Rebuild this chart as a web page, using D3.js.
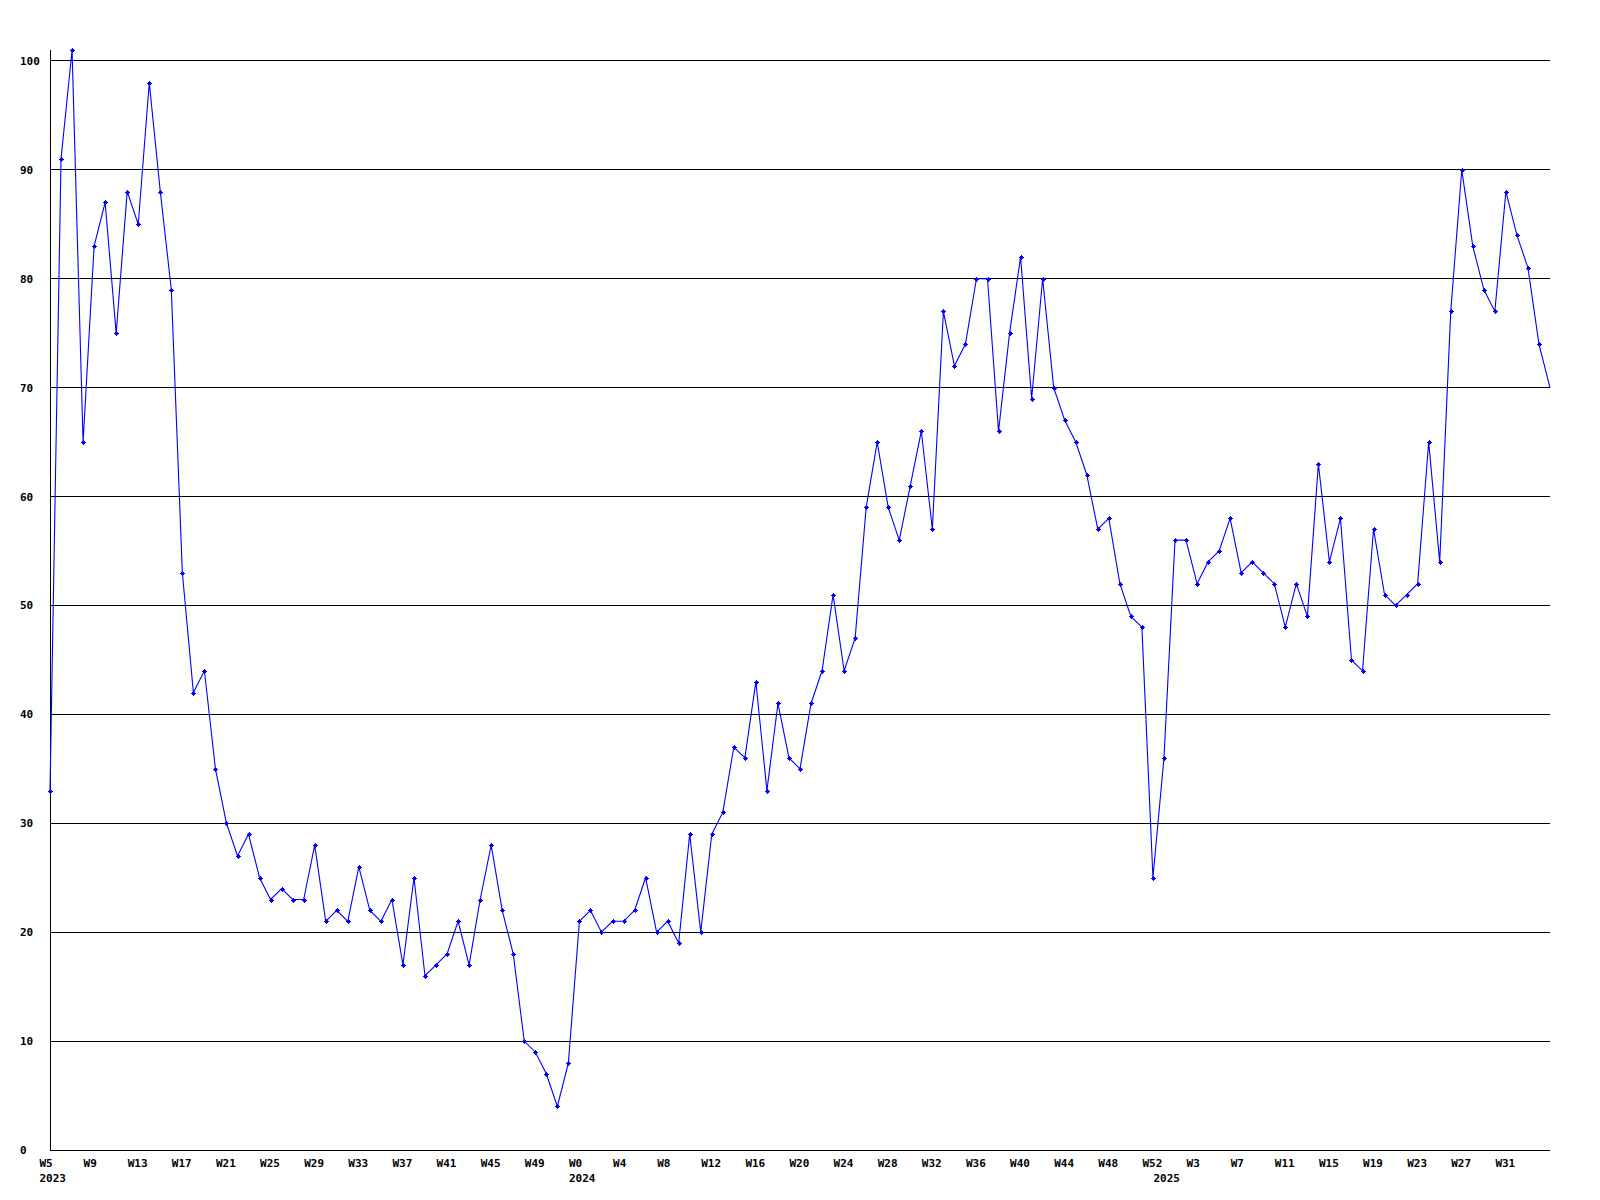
<!DOCTYPE html>
<html>
<head>
<meta charset="utf-8">
<script src="https://cdn.jsdelivr.net/npm/d3@7"></script>
<style>
  html, body { margin: 0; padding: 0; background: #fff; }
  svg { display: block; }
  text { font-family: "DejaVu Sans Mono", "Liberation Mono", monospace; font-weight: bold; font-size: 11px; fill: #000; }
</style>
</head>
<body>
<svg id="chart" width="1600" height="1200"></svg>
<script>
// ---- data ----
const years = ["2023", "2024", "2025"];
const weeks2023 = [5,6,7,8,9,10,11,12,13,14,15,16,17,18,19,20,21,22,23,24,25,26,27,28,29,30,31,32,33,34,35,36,37,38,39,40,41,42,43,44,45,46,47,48,49,50,51,52];
const weeks2024 = [0,1,2,3,4,5,6,7,8,9,10,11,12,13,14,15,16,17,18,19,20,21,22,23,24,25,26,27,28,29,30,31,32,33,34,35,36,37,38,39,40,41,42,43,44,45,46,47,48,49,50,51,52];
const weeks2025 = [0,1,2,3,4,5,6,7,8,9,10,11,12,13,14,15,16,17,18,19,20,21,22,23,24,25,26,27,28,29,30,31,32,33,34,35];

const values2023 = [33,91,101,65,83,87,75,88,85,98,
                    88,79,53,42,44,35,30,27,29,25,
                    23,24,23,23,28,21,22,21,26,22,
                    21,23,17,25,16,17,18,21,17,23,
                    28,22,18,10,9,7,4,8];
const values2024 = [21,22,20,21,21,22,25,20,21,19,
                    29,20,29,31,37,36,43,33,41,36,
                    35,41,44,51,44,47,59,65,59,56,
                    61,66,57,77,72,74,80,80,66,75,
                    82,69,80,70,67,65,62,57,58,52,
                    49,48,25];
const values2025 = [36,56,56,52,54,55,58,53,54,53,
                    52,48,52,49,63,54,58,45,44,57,
                    51,50,51,52,65,54,77,90,83,79,
                    77,88,84,81,74,70];

const xTicks = ["2023-W5","2023-W9","2023-W13","2023-W17","2023-W21","2023-W25","2023-W29","2023-W33","2023-W37","2023-W41","2023-W45","2023-W49",
                "2024-W0","2024-W4","2024-W8","2024-W12","2024-W16","2024-W20","2024-W24","2024-W28","2024-W32","2024-W36","2024-W40","2024-W44","2024-W48","2024-W52",
                "2025-W3","2025-W7","2025-W11","2025-W15","2025-W19","2025-W23","2025-W27","2025-W31"];
const yearTicks = ["2023-W5","2024-W0","2025-W0"];
const yTicks = [0,10,20,30,40,50,60,70,80,90,100];

// ---- build table ----
const weeksByYear = [weeks2023, weeks2024, weeks2025];
const valuesByYear = [values2023, values2024, values2025];
const data = [];
years.forEach((yr, k) => {
  weeksByYear[k].forEach((w, j) => {
    data.push({ key: yr + "-W" + w, year: yr, week: w, value: valuesByYear[k][j] });
  });
});

// ---- layout ----
const svg = d3.select("#chart");
const mLeft = 50, mRight = 1550, mTop = 50, mBottom = 1150;

const x = d3.scalePoint().domain(data.map(d => d.key)).range([mLeft, mRight]);
const y = d3.scaleLinear().domain([0, d3.max(data, d => d.value)]).range([mBottom, mTop]);

svg.append("rect").attr("width", 1600).attr("height", 1200).attr("fill", "#fff");

// grid lines
svg.append("g")
  .selectAll("line")
  .data(yTicks)
  .join("line")
  .attr("x1", mLeft).attr("x2", mRight)
  .attr("y1", d => Math.floor(y(d)) + 0.5).attr("y2", d => Math.floor(y(d)) + 0.5)
  .attr("stroke", "#000").attr("stroke-width", 1)
  .attr("shape-rendering", "crispEdges");

// y axis line
svg.append("line")
  .attr("x1", mLeft + 0.5).attr("x2", mLeft + 0.5)
  .attr("y1", mTop).attr("y2", Math.floor(y(0)) + 1)
  .attr("stroke", "#000").attr("stroke-width", 1)
  .attr("shape-rendering", "crispEdges");

// y labels
svg.append("g")
  .selectAll("text")
  .data(yTicks)
  .join("text")
  .attr("x", 20)
  .attr("y", d => y(d) + 4)
  .text(d => d);

// x labels
svg.append("g")
  .selectAll("text")
  .data(xTicks)
  .join("text")
  .attr("x", d => x(d) - 10.5)
  .attr("y", 1167)
  .text(d => d.split("-")[1]);

// year labels
svg.append("g")
  .selectAll("text")
  .data(yearTicks)
  .join("text")
  .attr("x", d => x(d) - 10.5)
  .attr("y", 1182)
  .text(d => d.split("-")[0]);

// line
const line = d3.line().x(d => x(d.key)).y(d => y(d.value));
svg.append("path")
  .datum(data)
  .attr("d", line)
  .attr("fill", "none")
  .attr("stroke", "#0000ff")
  .attr("stroke-width", 1.1);

// markers (all but the last point)
const mk = svg.append("g").attr("fill", "#0000ff").attr("shape-rendering", "crispEdges");
const markerData = data.slice(0, data.length - 1);
mk.selectAll("rect.h")
  .data(markerData)
  .join("rect")
  .attr("class", "h")
  .attr("x", d => Math.round(x(d.key)) - 2)
  .attr("y", d => Math.round(y(d.value)))
  .attr("width", 5).attr("height", 1);
mk.selectAll("rect.v")
  .data(markerData)
  .join("rect")
  .attr("class", "v")
  .attr("x", d => Math.round(x(d.key)))
  .attr("y", d => Math.round(y(d.value)) - 2)
  .attr("width", 1).attr("height", 5);
mk.selectAll("rect.c")
  .data(markerData)
  .join("rect")
  .attr("class", "c")
  .attr("x", d => Math.round(x(d.key)) - 1)
  .attr("y", d => Math.round(y(d.value)) - 1)
  .attr("width", 3).attr("height", 3);
</script>
</body>
</html>
